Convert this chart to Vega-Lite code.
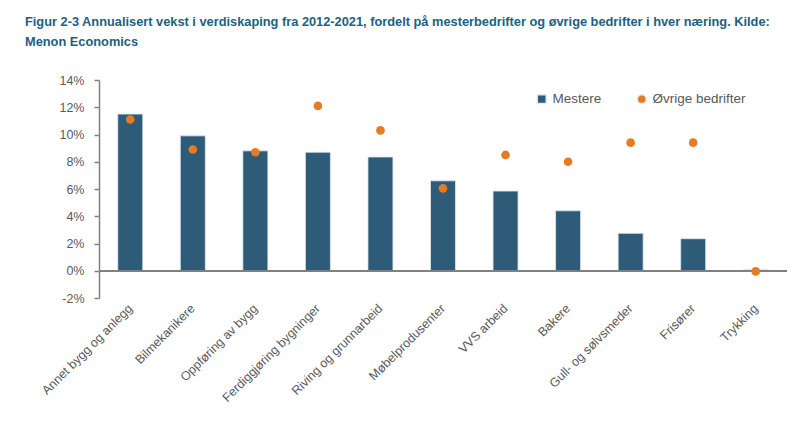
{
  "$schema": "https://vega.github.io/schema/vega-lite/v6.json",
  "autosize": {"type": "none"},
  "padding": {"left": 99, "top": 80, "right": 9, "bottom": 127},
  "width": 688,
  "height": 218,
  "background": "white",
  "title": {
    "text": ["Figur 2-3 Annualisert vekst i verdiskaping fra 2012-2021, fordelt på mesterbedrifter og øvrige bedrifter i hver næring. Kilde:", "Menon Economics"],
    "anchor": "start",
    "frame": "group",
    "dx": -74,
    "offset": 25,
    "font": "Liberation Sans",
    "fontSize": 12.8,
    "fontWeight": "bold",
    "color": "#21617f",
    "lineHeight": 20
  },
  "config": {
    "view": {"stroke": null},
    "font": "Liberation Sans"
  },
  "data": {
    "values": [
      {"cat": "Annet bygg og anlegg", "series": "Mestere", "value": 0.115},
      {"cat": "Bilmekanikere", "series": "Mestere", "value": 0.099},
      {"cat": "Oppføring av bygg", "series": "Mestere", "value": 0.088},
      {"cat": "Ferdiggjøring bygninger", "series": "Mestere", "value": 0.087},
      {"cat": "Riving og grunnarbeid", "series": "Mestere", "value": 0.0835},
      {"cat": "Møbelprodusenter", "series": "Mestere", "value": 0.066},
      {"cat": "VVS arbeid", "series": "Mestere", "value": 0.0585},
      {"cat": "Bakere", "series": "Mestere", "value": 0.044},
      {"cat": "Gull- og sølvsmeder", "series": "Mestere", "value": 0.0275},
      {"cat": "Frisører", "series": "Mestere", "value": 0.0235},
      {"cat": "Trykking", "series": "Mestere", "value": 0.0007},
      {"cat": "Annet bygg og anlegg", "series": "Øvrige bedrifter", "value": 0.111},
      {"cat": "Bilmekanikere", "series": "Øvrige bedrifter", "value": 0.089},
      {"cat": "Oppføring av bygg", "series": "Øvrige bedrifter", "value": 0.087},
      {"cat": "Ferdiggjøring bygninger", "series": "Øvrige bedrifter", "value": 0.121},
      {"cat": "Riving og grunnarbeid", "series": "Øvrige bedrifter", "value": 0.103},
      {"cat": "Møbelprodusenter", "series": "Øvrige bedrifter", "value": 0.0605},
      {"cat": "VVS arbeid", "series": "Øvrige bedrifter", "value": 0.085},
      {"cat": "Bakere", "series": "Øvrige bedrifter", "value": 0.080},
      {"cat": "Gull- og sølvsmeder", "series": "Øvrige bedrifter", "value": 0.094},
      {"cat": "Frisører", "series": "Øvrige bedrifter", "value": 0.094},
      {"cat": "Trykking", "series": "Øvrige bedrifter", "value": -0.0005}
    ]
  },
  "encoding": {
    "x": {
      "field": "cat",
      "type": "nominal",
      "sort": null,
      "title": null,
      "scale": {"paddingInner": 0.6, "paddingOuter": 0.3},
      "axis": {
        "domain": false,
        "ticks": false,
        "labelAngle": -45,
        "labelAlign": "right",
        "labelBaseline": "middle",
        "labelPadding": 8,
        "labelFontSize": 12.5,
        "labelColor": "#595959",
        "labelFont": "Liberation Sans",
        "labelLimit": 200
      }
    },
    "y": {
      "field": "value",
      "type": "quantitative",
      "title": null,
      "scale": {"domain": [-0.02, 0.14], "nice": false, "zero": false},
      "axis": {
        "values": [-0.02, 0, 0.02, 0.04, 0.06, 0.08, 0.1, 0.12, 0.14],
        "format": ".0%",
        "labelExpr": "replace(datum.label, '−', '-')",
        "grid": false,
        "domainColor": "#808080",
        "domainWidth": 1.5,
        "tickColor": "#808080",
        "tickWidth": 1.5,
        "tickSize": 5,
        "labelPadding": 10,
        "labelFontSize": 12.5,
        "labelColor": "#595959",
        "labelFont": "Liberation Sans"
      }
    },
    "color": {
      "field": "series",
      "type": "nominal",
      "scale": {"domain": ["Mestere", "Øvrige bedrifter"], "range": ["#2d5b78", "#e57c25"]},
      "legend": {
        "title": null,
        "orient": "none",
        "legendX": 436,
        "legendY": 12,
        "direction": "horizontal",
        "labelFontSize": 13.5,
        "labelColor": "#595959",
        "labelFont": "Liberation Sans",
        "symbolSize": 80,
        "columnPadding": 32,
        "labelOffset": 4
      }
    }
  },
  "layer": [
    {
      "transform": [{"filter": "datum.series === 'Mestere'"}],
      "mark": {"type": "bar", "stroke": "#e3eaef", "strokeWidth": 0.8},
      "encoding": {
        "y": {"field": "value", "type": "quantitative"},
        "y2": {"datum": 0},
        "shape": {
          "field": "series",
          "type": "nominal",
          "scale": {"domain": ["Mestere", "Øvrige bedrifter"], "range": ["square", "circle"]},
          "legend": null
        }
      }
    },
    {
      "mark": {"type": "rule", "color": "#808080", "strokeWidth": 1.5},
      "encoding": {"y": {"datum": 0}, "x": null, "color": null}
    },
    {
      "transform": [{"filter": "datum.series !== 'Mestere'"}],
      "mark": {"type": "point", "filled": true, "opacity": 1, "size": 75},
      "encoding": {
        "shape": {
          "field": "series",
          "type": "nominal",
          "scale": {"domain": ["Mestere", "Øvrige bedrifter"], "range": ["square", "circle"]},
          "legend": null
        }
      }
    }
  ]
}
